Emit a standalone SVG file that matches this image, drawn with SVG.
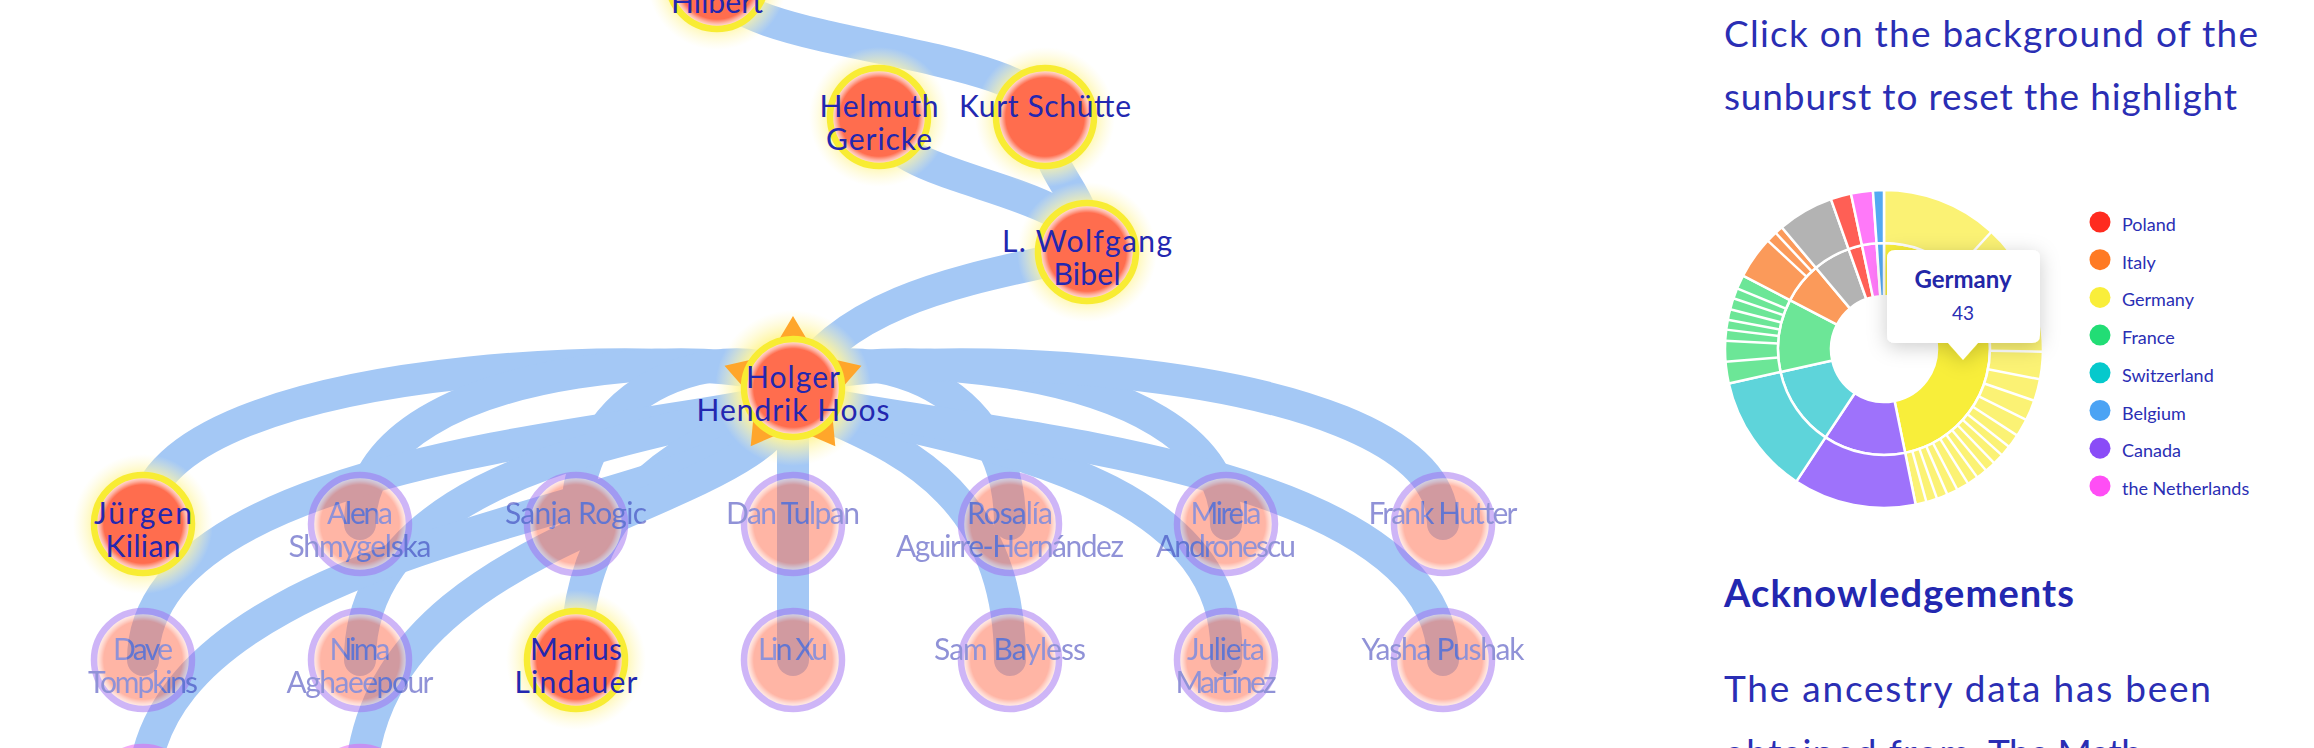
<svg xmlns="http://www.w3.org/2000/svg" width="2314" height="748" viewBox="0 0 2314 748">
<defs>
<style>
.lk{fill:none;stroke:#A4C8F5;stroke-width:32;stroke-linecap:round}
.t{font-family:Lato,"Liberation Sans",sans-serif;font-size:30px;fill:#2327B0;text-anchor:middle}
.p{font-family:Lato,"Liberation Sans",sans-serif;font-size:37px;font-weight:400;fill:#2A2EB4}
.h{font-family:Lato,"Liberation Sans",sans-serif;font-size:38px;font-weight:700;fill:#2327B0}
.lg{font-family:Lato,"Liberation Sans",sans-serif;font-size:18px;fill:#2A2EB4}
.seg{stroke:#fff;stroke-width:2.5;stroke-linejoin:round}
.sep{stroke:#fff;stroke-width:2.5}
.fd{opacity:.5}
</style>
<radialGradient id="core" cx="0.5" cy="0.5" r="0.5">
<stop offset="0" stop-color="#FF6D4E"/>
<stop offset="0.8" stop-color="#FF6D4E"/>
<stop offset="0.88" stop-color="#FFB3A2"/>
<stop offset="0.95" stop-color="#FFE0D8"/>
<stop offset="1" stop-color="#FFF0EC"/>
</radialGradient>
<radialGradient id="glow" cx="0.5" cy="0.5" r="0.5">
<stop offset="0.68" stop-color="#FFF59A" stop-opacity="0.9"/>
<stop offset="1" stop-color="#FFF9C8" stop-opacity="0"/>
</radialGradient>
<g id="hl"><circle r="70" fill="url(#glow)"/><circle r="49" fill="url(#core)"/><circle r="49" fill="none" stroke="#F8EC33" stroke-width="6.5"/></g>
<g id="ca"><circle r="49" fill="url(#core)"/><circle r="49" fill="none" stroke="#9F6DF1" stroke-width="6.5"/></g>
<g id="nl"><circle r="49" fill="url(#core)"/><circle r="49" fill="none" stroke="#E65CF0" stroke-width="6.5"/></g>
<filter id="sh" x="-40%" y="-40%" width="180%" height="190%"><feDropShadow dx="0" dy="4" stdDeviation="10" flood-color="#000" flood-opacity="0.2"/></filter>
</defs>
<rect width="2314" height="748" fill="#fff"/>

<g id="connectors">
<path class="lk" d="M717,-20 C717,48 1045,48 1045,117"/>
<path class="lk" d="M879,117 C879,184 1087,184 1087,252"/>
<path class="lk" d="M1045,117 C1045,184 1087,184 1087,252"/>
<path class="lk" d="M1087,252 C1000,275 850,290 793,388"/>
<path class="lk" d="M793,388 C793,345 143,345 143,524"/>
<path class="lk" d="M793,388 C793,345 360,345 360,524"/>
<path class="lk" d="M793,388 C793,345 576,345 576,524"/>
<path class="lk" d="M793,388 L793,524"/>
<path class="lk" d="M793,388 C793,345 1010,345 1010,524"/>
<path class="lk" d="M793,388 C793,345 1226,345 1226,524"/>
<path class="lk" d="M793,388 C793,345 1443,345 1443,524"/>
<path class="lk" d="M793,388 C793,430 143,430 143,660"/>
<path class="lk" d="M793,388 C793,430 360,430 360,660"/>
<path class="lk" d="M793,388 C793,430 576,430 576,660"/>
<path class="lk" d="M793,388 L793,660"/>
<path class="lk" d="M793,388 C793,430 1010,430 1010,660"/>
<path class="lk" d="M793,388 C793,430 1240,430 1226,660"/>
<path class="lk" d="M793,388 C793,430 1443,430 1443,660"/>
<path class="lk" d="M793,388 C793,515 143,515 143,796"/>
<path class="lk" d="M793,388 C793,515 360,515 360,796"/>
</g>

<g id="node-hilbert" transform="translate(717,-20)"><use href="#hl"/><text class="t" y="33" textLength="92">Hilbert</text></g>
<g id="node-gericke" transform="translate(879,117)"><use href="#hl"/><text class="t" y="0" textLength="119">Helmuth</text><text class="t" y="33" textLength="106">Gericke</text></g>
<g id="node-schuette" transform="translate(1045,117)"><use href="#hl"/><text class="t" y="0" textLength="172">Kurt Schütte</text></g>
<g id="node-bibel" transform="translate(1087,252)"><use href="#hl"/><text class="t" y="0" textLength="170">L. Wolfgang</text><text class="t" y="33" textLength="67">Bibel</text></g>
<g id="node-hoos" transform="translate(793,388)">
<circle r="78" fill="url(#glow)"/>
<polygon points="0,-72 23.5,-32.4 68.5,-22.2 38,12.4 42.3,58.2 0,40 -42.3,58.2 -38,12.4 -68.5,-22.2 -23.5,-32.4" fill="#FFA62B"/>
<circle r="49" fill="url(#core)"/><circle r="49" fill="none" stroke="#F8EC33" stroke-width="6.5"/>
<text class="t" y="0" textLength="94">Holger</text><text class="t" y="33" textLength="193">Hendrik Hoos</text></g>

<g id="node-kilian" transform="translate(143,524)"><use href="#hl"/><text class="t" y="0" textLength="98">Jürgen</text><text class="t" y="33" textLength="75">Kilian</text></g>
<g id="node-shmygelska" class="fd" transform="translate(360,524)"><use href="#ca"/><text class="t" y="0" textLength="66">Alena</text><text class="t" y="33" textLength="143">Shmygelska</text></g>
<g id="node-rogic" class="fd" transform="translate(576,524)"><use href="#ca"/><text class="t" y="0" textLength="142">Sanja Rogic</text></g>
<g id="node-tulpan" class="fd" transform="translate(793,524)"><use href="#ca"/><text class="t" y="0" textLength="134">Dan Tulpan</text></g>
<g id="node-aguirre" class="fd" transform="translate(1010,524)"><use href="#ca"/><text class="t" y="0" textLength="86">Rosalía</text><text class="t" y="33" textLength="228">Aguirre-Hernández</text></g>
<g id="node-andronescu" class="fd" transform="translate(1226,524)"><use href="#ca"/><text class="t" y="0" textLength="71">Mirela</text><text class="t" y="33" textLength="140">Andronescu</text></g>
<g id="node-hutter" class="fd" transform="translate(1443,524)"><use href="#ca"/><text class="t" y="0" textLength="149">Frank Hutter</text></g>

<g id="node-tompkins" class="fd" transform="translate(143,660)"><use href="#ca"/><text class="t" y="0" textLength="60">Dave</text><text class="t" y="33" textLength="110">Tompkins</text></g>
<g id="node-aghaeepour" class="fd" transform="translate(360,660)"><use href="#ca"/><text class="t" y="0" textLength="61">Nima</text><text class="t" y="33" textLength="147">Aghaeepour</text></g>
<g id="node-lindauer" transform="translate(576,660)"><use href="#hl"/><text class="t" y="0" textLength="92">Marius</text><text class="t" y="33" textLength="123">Lindauer</text></g>
<g id="node-xu" class="fd" transform="translate(793,660)"><use href="#ca"/><text class="t" y="0" textLength="70">Lin Xu</text></g>
<g id="node-bayless" class="fd" transform="translate(1010,660)"><use href="#ca"/><text class="t" y="0" textLength="152">Sam Bayless</text></g>
<g id="node-martinez" class="fd" transform="translate(1226,660)"><use href="#ca"/><text class="t" y="0" textLength="78">Julieta</text><text class="t" y="33" textLength="101">Martinez</text></g>
<g id="node-pushak" class="fd" transform="translate(1443,660)"><use href="#ca"/><text class="t" y="0" textLength="163">Yasha Pushak</text></g>
<g id="node-g1" class="fd" transform="translate(143,796)"><use href="#nl"/></g>
<g id="node-g2" class="fd" transform="translate(360,796)"><use href="#nl"/></g>

<g id="info-text">
<text class="p" x="1724" y="47" textLength="534">Click on the background of the</text>
<text class="p" x="1724" y="110" textLength="513">sunburst to reset the highlight</text>
<text class="h" x="1724" y="607" textLength="350">Acknowledgements</text>
<text class="p" x="1724" y="702" textLength="487">The ancestry data has been</text>
<text class="p" x="1724" y="766" textLength="246">obtained from</text>
<text class="p" x="1988" y="766" fill="#141414" textLength="154">The Math</text>
</g>

<g id="sunburst">
<path class="seg" fill="#F8EE3A" d="M1884,243 A106,106 0 0 1 1905.14,452.87 L1894.57,400.93 A53,53 0 0 0 1884,296 Z"/>
<path class="seg" fill="#9E72FB" d="M1905.14,452.87 A106,106 0 0 1 1825.5,437.39 L1854.75,393.2 A53,53 0 0 0 1894.57,400.93 Z"/>
<path class="seg" fill="#5ED4DA" d="M1825.5,437.39 A106,106 0 0 1 1780.51,371.94 L1832.26,360.47 A53,53 0 0 0 1854.75,393.2 Z"/>
<path class="seg" fill="#6CE697" d="M1780.51,371.94 A106,106 0 0 1 1789.98,300.06 L1836.99,324.53 A53,53 0 0 0 1832.26,360.47 Z"/>
<path class="seg" fill="#FB9A5A" d="M1789.98,300.06 A106,106 0 0 1 1815.86,267.8 L1849.93,308.4 A53,53 0 0 0 1836.99,324.53 Z"/>
<path class="seg" fill="#B3B3B3" d="M1815.86,267.8 A106,106 0 0 1 1848.62,249.08 L1866.31,299.04 A53,53 0 0 0 1849.93,308.4 Z"/>
<path class="seg" fill="#FF5F55" d="M1848.62,249.08 A106,106 0 0 1 1861.96,245.32 L1872.98,297.16 A53,53 0 0 0 1866.31,299.04 Z"/>
<path class="seg" fill="#FF79F9" d="M1861.96,245.32 A106,106 0 0 1 1876.6,243.25 L1880.3,296.13 A53,53 0 0 0 1872.98,297.16 Z"/>
<path class="seg" fill="#54A9F2" d="M1876.6,243.25 A106,106 0 0 1 1884,243 L1884,296 A53,53 0 0 0 1880.3,296.13 Z"/>

<path class="seg" fill="#FBF274" d="M1884,190 A159,159 0 0 1 1915.7,504.8 L1905.14,452.87 A106,106 0 0 0 1884,243 Z"/>
<path class="seg" fill="#9E72FB" d="M1915.7,504.8 A159,159 0 0 1 1796.25,481.59 L1825.5,437.39 A106,106 0 0 0 1905.14,452.87 Z"/>
<path class="seg" fill="#5ED4DA" d="M1796.25,481.59 A159,159 0 0 1 1728.77,383.41 L1780.51,371.94 A106,106 0 0 0 1825.5,437.39 Z"/>
<path class="seg" fill="#6CE697" d="M1728.77,383.41 A159,159 0 0 1 1742.97,275.59 L1789.98,300.06 A106,106 0 0 0 1780.51,371.94 Z"/>
<path class="seg" fill="#FB9A5A" d="M1742.97,275.59 A159,159 0 0 1 1781.79,227.21 L1815.86,267.8 A106,106 0 0 0 1789.98,300.06 Z"/>
<path class="seg" fill="#B3B3B3" d="M1781.79,227.21 A159,159 0 0 1 1830.93,199.13 L1848.62,249.08 A106,106 0 0 0 1815.86,267.8 Z"/>
<path class="seg" fill="#FF5F55" d="M1830.93,199.13 A159,159 0 0 1 1850.94,193.48 L1861.96,245.32 A106,106 0 0 0 1848.62,249.08 Z"/>
<path class="seg" fill="#FF79F9" d="M1850.94,193.48 A159,159 0 0 1 1872.9,190.38 L1876.6,243.25 A106,106 0 0 0 1861.96,245.32 Z"/>
<path class="seg" fill="#54A9F2" d="M1872.9,190.38 A159,159 0 0 1 1884,190 L1884,243 A106,106 0 0 0 1876.6,243.25 Z"/>

<g class="sep">
<line x1="1955.61" y1="270.85" x2="1991.42" y2="231.77"/>
<line x1="1980.83" y1="305.89" x2="2029.25" y2="284.33"/>
<line x1="1989.98" y1="350.85" x2="2042.98" y2="351.77"/>
<line x1="1988.05" y1="369.22" x2="2040.07" y2="379.34"/>
<line x1="1984.22" y1="383.51" x2="2034.33" y2="400.77"/>
<line x1="1978.86" y1="396.3" x2="2026.29" y2="419.95"/>
<line x1="1972.9" y1="406.73" x2="2017.35" y2="435.59"/>
<line x1="1967.53" y1="414.26" x2="2009.29" y2="446.9"/>
<line x1="1962.77" y1="419.92" x2="2002.15" y2="455.39"/>
<line x1="1957.64" y1="425.25" x2="1994.46" y2="463.37"/>
<line x1="1952.14" y1="430.2" x2="1986.21" y2="470.79"/>
<line x1="1946.31" y1="434.75" x2="1977.46" y2="477.63"/>
<line x1="1940.17" y1="438.89" x2="1968.25" y2="483.83"/>
<line x1="1932.94" y1="443.02" x2="1957.41" y2="490.03"/>
<line x1="1926.26" y1="446.21" x2="1947.39" y2="494.82"/>
<line x1="1919.38" y1="448.92" x2="1937.07" y2="498.87"/>
<line x1="1912.32" y1="451.14" x2="1926.48" y2="502.21"/>
<line x1="1778.34" y1="357.5" x2="1725.51" y2="361.75"/>
<line x1="1778.15" y1="343.46" x2="1725.22" y2="340.68"/>
<line x1="1778.8" y1="336.08" x2="1726.19" y2="329.62"/>
<line x1="1779.81" y1="329.5" x2="1727.72" y2="319.74"/>
<line x1="1781.38" y1="322.46" x2="1730.07" y2="309.19"/>
<line x1="1783.53" y1="315.19" x2="1733.3" y2="298.28"/>
<line x1="1786" y1="308.6" x2="1737" y2="288.41"/>
<line x1="1806.47" y1="276.71" x2="1767.71" y2="240.56"/>
<line x1="1811.71" y1="271.47" x2="1775.56" y2="232.71"/>
</g>

<g id="tooltip" filter="url(#sh)">
<path d="M1895,250 H2032 Q2040,250 2040,258 V335 Q2040,343 2032,343 H1978 L1963,360 L1948,343 H1895 Q1887,343 1887,335 V258 Q1887,250 1895,250 Z" fill="#fff"/>
</g>
<text x="1963" y="288" font-family="Lato,'Liberation Sans',sans-serif" font-size="24" font-weight="bold" fill="#2327A8" text-anchor="middle">Germany</text>
<text x="1963" y="320" font-family="Lato,'Liberation Sans',sans-serif" font-size="19" fill="#2A2EB4" text-anchor="middle">43</text>
</g>

<g id="legend">
<circle cx="2100" cy="222" r="10.5" fill="#FF2B1F"/><text class="lg" x="2122" y="231">Poland</text>
<circle cx="2100" cy="259.7" r="10.5" fill="#FF7A23"/><text class="lg" x="2122" y="268.7">Italy</text>
<circle cx="2100" cy="297.4" r="10.5" fill="#F9EE3A"/><text class="lg" x="2122" y="306.4">Germany</text>
<circle cx="2100" cy="335.1" r="10.5" fill="#22DD75"/><text class="lg" x="2122" y="344.1">France</text>
<circle cx="2100" cy="372.8" r="10.5" fill="#06C9CC"/><text class="lg" x="2122" y="381.8">Switzerland</text>
<circle cx="2100" cy="410.5" r="10.5" fill="#4BA3F4"/><text class="lg" x="2122" y="419.5">Belgium</text>
<circle cx="2100" cy="448.2" r="10.5" fill="#8A4CF7"/><text class="lg" x="2122" y="457.2">Canada</text>
<circle cx="2100" cy="485.9" r="10.5" fill="#FF4EF5"/><text class="lg" x="2122" y="494.9">the Netherlands</text>
</g>
</svg>
